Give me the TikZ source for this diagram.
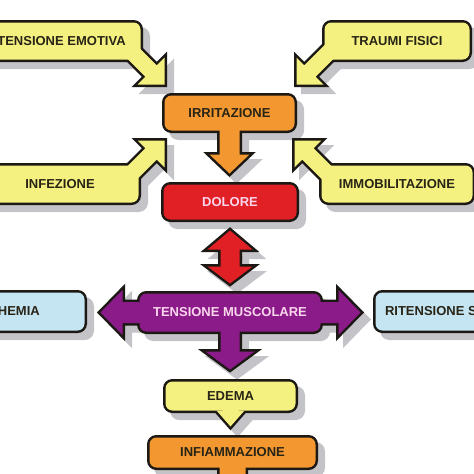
\documentclass[tikz,border=0pt]{standalone}
\usepackage{fontspec}
\setmainfont{Liberation Sans}
\usetikzlibrary{calc}
\definecolor{yel}{RGB}{244,241,128}
\definecolor{orng}{RGB}{243,151,48}
\definecolor{rd}{RGB}{225,32,38}
\definecolor{purp}{RGB}{140,27,138}
\definecolor{blu}{RGB}{197,229,243}
\definecolor{rim}{RGB}{28,24,20}
\definecolor{shd}{RGB}{196,196,200}
\definecolor{dark}{RGB}{40,36,22}
\definecolor{pale}{RGB}{250,214,236}
\pgfdeclarelayer{shad}
\pgfdeclarelayer{edge}
\pgfdeclarelayer{arr}
\pgfsetlayers{shad,edge,arr,main}
\tikzset{
  box/.style={fill=#1,rounded corners=7pt,inner sep=0pt,outer sep=0pt,
    font=\bfseries\fontsize{13}{13}\selectfont},
  fat/.style n args={3}{to path={
    ($(\tikztostart)!#1!90:(\tikztotarget)$)
    -- ($(\tikztotarget)!#3!(\tikztostart)!#1!90:(\tikztotarget)$)
    -- ($(\tikztotarget)!#3!(\tikztostart)!#2!90:(\tikztotarget)$)
    -- (\tikztotarget)
    -- ($(\tikztotarget)!#3!(\tikztostart)!#2!-90:(\tikztotarget)$)
    -- ($(\tikztotarget)!#3!(\tikztostart)!#1!-90:(\tikztotarget)$)
    -- ($(\tikztostart)!#1!-90:(\tikztotarget)$)
    -- cycle}}
}
\newcommand\fatarrow[6]{%
  \begin{pgfonlayer}{shad}
  \filldraw[shd,line width=5pt,transform canvas={shift={(7pt,-7pt)}}]
    (#5) to[fat={#2}{#3}{#4}] (#6);
  \end{pgfonlayer}
  \begin{pgfonlayer}{edge}
  \draw[rim,line width=5pt] (#5) to[fat={#2}{#3}{#4}] (#6);
  \end{pgfonlayer}
  \begin{pgfonlayer}{arr}
  \fill[#1] (#5) to[fat={#2}{#3}{#4}] (#6);
  \end{pgfonlayer}}
\begin{document}
\begin{tikzpicture}[x=1pt,y=-1pt]
\useasboundingbox (0,0) rectangle (474,474);
\node[box=yel,text=dark,minimum width=158pt,minimum height=37pt]
(emo) at (61.5,41) {TENSIONE EMOTIVA};
\node[box=yel,text=dark,minimum width=145pt,minimum height=37pt]
(tra) at (397,41) {TRAUMI FISICI};
\node[box=yel,text=dark,minimum width=157pt,minimum height=37pt]
(inf) at (60,184) {INFEZIONE};
\node[box=yel,text=dark,minimum width=151pt,minimum height=37pt]
(imm) at (397,184) {IMMOBILITAZIONE};
\node[box=orng,text=dark,minimum width=130pt,minimum height=35pt]
(irr) at (229.5,113) {IRRITAZIONE};
\node[box=rd,text=pale,minimum width=133pt,minimum height=35pt]
(dol) at (230,202) {DOLORE};
\node[box=purp,text=pale,minimum width=181pt,minimum height=38pt]
(mus) at (230,312.5) {TENSIONE MUSCOLARE};
\node[box=blu,text=dark,minimum width=153pt,minimum height=38pt]
(isc) at (8,311.5) {ISCHEMIA};
\node[box=blu,text=dark,minimum width=152pt,minimum height=38pt]
(rit) at (451.5,311.5) {RITENSIONE SCORIE};
\node[box=yel,text=dark,minimum width=130pt,minimum height=29pt]
(ede) at (230.5,396) {EDEMA};
\node[box=orng,text=dark,minimum width=166pt,minimum height=30pt]
(infm) at (232.5,452.5) {INFIAMMAZIONE};
\foreach \n in {emo,tra,inf,imm,irr,dol,mus,isc,rit,ede,infm}{
  \begin{pgfonlayer}{shad}
  \filldraw[shd,line width=5pt,rounded corners=7pt,transform canvas={shift={(7pt,-7pt)}}]
    (\n.north west) rectangle (\n.south east);
  \end{pgfonlayer}
  \begin{pgfonlayer}{edge}
  \draw[rim,line width=5pt,rounded corners=7pt] (\n.north west) rectangle (\n.south east);
  \end{pgfonlayer}
}
\coordinate (emoS) at (128,48);
\coordinate (emoT) at (164.5,84.5);
\coordinate (traS) at (333,48);
\coordinate (traT) at (296.5,84.5);
\coordinate (infS) at (128,177);
\coordinate (infT) at (164.5,140.5);
\coordinate (immS) at (331,177);
\coordinate (immT) at (294.5,140.5);
\coordinate (dolT) at (229.5,173.5);
\coordinate (redM) at (230,258);
\coordinate (redU) at (230,230.5);
\coordinate (redD) at (230,283.5);
\coordinate (iscT) at (100.5,312.5);
\coordinate (ritT) at (360.5,312.5);
\coordinate (edeT) at (230,369.5);
\coordinate (ptrT) at (230.5,426.5);
\coordinate (infmT) at (232.5,500);
\fatarrow{yel}{8pt}{19pt}{19pt}{emoS}{emoT}
\fatarrow{yel}{8pt}{19pt}{19pt}{traS}{traT}
\fatarrow{yel}{8pt}{19pt}{19pt}{infS}{infT}
\fatarrow{yel}{8pt}{19pt}{19pt}{immS}{immT}
\fatarrow{orng}{10pt}{20pt}{19pt}{irr}{dolT}
\fatarrow{rd}{9.5pt}{22.5pt}{19pt}{redM}{redU}
\fatarrow{rd}{9.5pt}{22.5pt}{17pt}{redM}{redD}
\fatarrow{purp}{10.5pt}{22.5pt}{22pt}{mus}{iscT}
\fatarrow{purp}{10.5pt}{22.5pt}{22pt}{mus}{ritT}
\fatarrow{purp}{9.5pt}{24.5pt}{18pt}{mus}{edeT}
\fatarrow{yel}{8pt}{14pt}{16pt}{ede}{ptrT}
\fatarrow{orng}{13pt}{22pt}{22pt}{infm}{infmT}
\end{tikzpicture}
\end{document}
